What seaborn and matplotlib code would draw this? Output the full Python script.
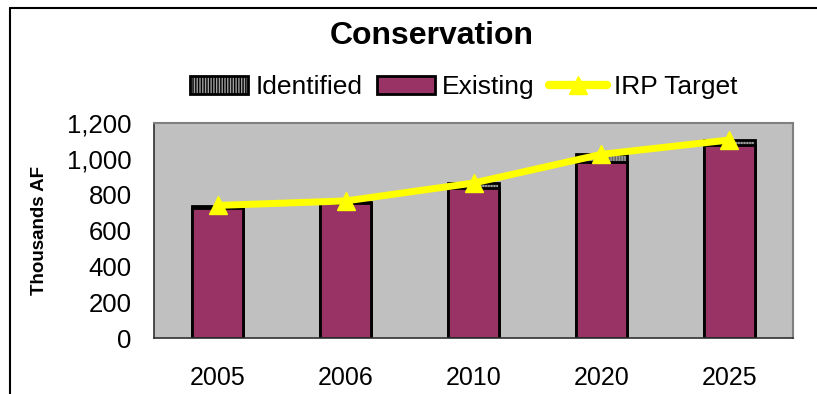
import numpy as np
import pandas as pd
import matplotlib
matplotlib.use("Agg")
import matplotlib.pyplot as plt
import seaborn as sns
from matplotlib.patches import Patch
from matplotlib.lines import Line2D

# data
years = ["2005", "2006", "2010", "2020", "2025"]
existing = [725, 755, 835, 980, 1075]
identified = [10, 5, 30, 48, 32]
irp_target = [740, 765, 865, 1025, 1105]

total = [e + i for e, i in zip(existing, identified)]
df = pd.DataFrame({"year": years, "existing": existing, "total": total, "irp": irp_target})

sns.set_style("white")
plt.rcParams["font.family"] = ["Liberation Sans", "DejaVu Sans"]
plt.rcParams["text.color"] = "black"
plt.rcParams["axes.labelcolor"] = "black"
plt.rcParams["xtick.color"] = "black"
plt.rcParams["ytick.color"] = "black"

fig = plt.figure(figsize=(8.17, 3.94), dpi=100)
ax = fig.add_axes([154 / 817, 1 - 338 / 394, (793 - 154) / 817, (338 - 123) / 394])
ax.set_facecolor("#C0C0C0")

bw = 0.4
# identified (stacked on top) - hatched layer then outline
sns.barplot(data=df, x="year", y="total", color="#A0A0A0", saturation=1, width=bw,
            hatch="||||||", edgecolor="#606060", linewidth=0, ax=ax, zorder=2)
sns.barplot(data=df, x="year", y="total", fill=False, width=bw,
            edgecolor="black", linewidth=2, ax=ax, zorder=3)
# existing
sns.barplot(data=df, x="year", y="existing", color="#993366", saturation=1, width=bw,
            edgecolor="black", linewidth=2, ax=ax, zorder=4)
# IRP target line
ax.plot(range(len(years)), df["irp"], color="yellow", lw=5, marker="^", ms=13,
        solid_capstyle="round", zorder=6, clip_on=False)

ax.set_ylim(0, 1200)
ax.set_xlim(-0.5, 4.5)
ax.set_yticks(range(0, 1201, 200))
ax.yaxis.set_major_formatter(matplotlib.ticker.FuncFormatter(lambda v, p: f"{int(v):,}"))
ax.set_xticks(range(len(years)))
ax.set_xticklabels(years)
ax.set_xticks(np.arange(0.5, 4.6, 1.0), minor=True)
ax.tick_params(axis="x", which="major", length=0, pad=20, labelsize=18)
ax.tick_params(axis="x", which="minor", length=9, width=1, color="black", direction="out")
ax.tick_params(axis="y", length=6, width=1, color="black", direction="out", pad=10, labelsize=18.5)
ax.set_xlabel("")
ax.set_ylabel("Thousands AF", fontsize=13.5, fontweight="bold", labelpad=14)

for side in ["top", "right"]:
    ax.spines[side].set_color("#808080")
    ax.spines[side].set_linewidth(1.5)
for side in ["left", "bottom"]:
    ax.spines[side].set_color("#303030")
    ax.spines[side].set_linewidth(1.2)
ax.spines["bottom"].set_zorder(7)

fig.text(0.528, 0.909, "Conservation", ha="center", va="center", fontsize=23, fontweight="bold")

handles = [
    Patch(facecolor="#A0A0A0", edgecolor="black", hatch="||||||", linewidth=2),
    Patch(facecolor="#993366", edgecolor="black", linewidth=2),
    Line2D([0], [0], color="yellow", lw=6, marker="^", ms=13, solid_capstyle="round"),
]
fig.legend(handles, ["Identified", "Existing", "IRP Target"], loc="center",
           bbox_to_anchor=(0.568, 0.779), ncol=3, frameon=False, fontsize=19,
           handlelength=2.2, handletextpad=0.27, columnspacing=0.55, handleheight=0.7)

# partial outer chart border (top and left only)
fig.add_artist(Line2D([10 / 817, 10 / 817], [0, 1 - 8 / 394], color="black", lw=1.5,
                      transform=fig.transFigure))
fig.add_artist(Line2D([10 / 817, 1], [1 - 8 / 394, 1 - 8 / 394], color="black", lw=1.5,
                      transform=fig.transFigure))

fig.savefig("out.png", dpi=100)
